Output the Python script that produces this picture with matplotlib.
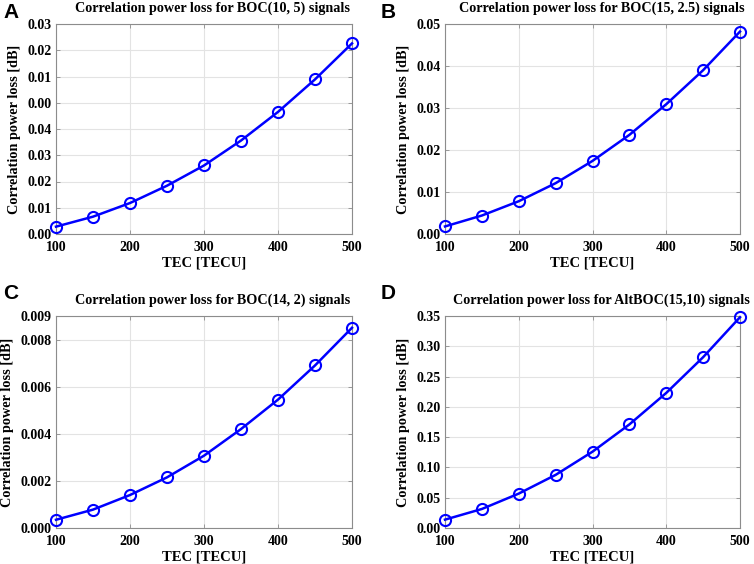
import matplotlib
matplotlib.use("Agg")
import matplotlib.pyplot as plt

# TEC values on the x axis
tec = [100, 150, 200, 250, 300, 350, 400, 450, 500]

# correlation power loss [dB]
loss_boc_10_5 = [0.0028, 0.0066, 0.0118, 0.0184, 0.0261, 0.0356, 0.0465, 0.0589, 0.0726]
loss_boc_15_25 = [0.0018, 0.0044, 0.0078, 0.0121, 0.0174, 0.0236, 0.0309, 0.0390, 0.0482]
loss_boc_14_2 = [0.00035, 0.00078, 0.0014, 0.00215, 0.00307, 0.0042, 0.00545, 0.0069, 0.0085]
loss_altboc = [0.0138, 0.0314, 0.0568, 0.0877, 0.126, 0.171, 0.223, 0.282, 0.348]

titles = [
    "Correlation power loss for BOC(10, 5) signals",
    "Correlation power loss for BOC(15, 2.5) signals",
    "Correlation power loss for BOC(14, 2) signals",
    "Correlation power loss for AltBOC(15,10) signals",
]
letters = ["A", "B", "C", "D"]

# y ticks per panel (panel A has the odd repeated labels of the original)
yticks_a = [0.0, 0.01, 0.02, 0.03, 0.04, 0.05, 0.06, 0.07, 0.08]
ylabels_a = ["0.00", "0.01", "0.02", "0.03", "0.04", "0.00", "0.01", "0.02", "0.03"]
yticks_b = [0.0, 0.01, 0.02, 0.03, 0.04, 0.05]
ylabels_b = ["0.00", "0.01", "0.02", "0.03", "0.04", "0.05"]
yticks_c = [0.0, 0.002, 0.004, 0.006, 0.008, 0.009]
ylabels_c = ["0.000", "0.002", "0.004", "0.006", "0.008", "0.009"]
yticks_d = [0.0, 0.05, 0.10, 0.15, 0.20, 0.25, 0.30, 0.35]
ylabels_d = ["0.00", "0.05", "0.10", "0.15", "0.20", "0.25", "0.30", "0.35"]

xticks = [100, 200, 300, 400, 500]

plt.rcParams["font.family"] = ["Liberation Serif", "DejaVu Serif"]
plt.rcParams["font.weight"] = "bold"

W, H = 754, 564
fig = plt.figure(figsize=(W / 100, H / 100), dpi=100)

# axes boxes in pixels: left, top, right, bottom
boxes = [(56, 24, 352, 234), (445, 24, 740, 234),
         (56, 316, 352, 528), (445, 316, 740, 528)]
series = [loss_boc_10_5, loss_boc_15_25, loss_boc_14_2, loss_altboc]
yticks = [yticks_a, yticks_b, yticks_c, yticks_d]
ylabels = [ylabels_a, ylabels_b, ylabels_c, ylabels_d]
ylims = [(0, 0.08), (0, 0.05), (0, 0.009), (0, 0.35)]
letter_pos = [(3, 3), (381, 3), (3, 284), (381, 284)]

for i in range(4):
    l, t, r, b = boxes[i]
    ax = fig.add_axes([l / W, 1 - b / H, (r - l) / W, (b - t) / H])
    ax.plot(tec, series[i], color="#0000ff", lw=1.8, marker="o", ms=8,
            mfc="none", mec="#0000ff", mew=1.5, clip_on=False, zorder=3)
    ax.set_xlim(100, 500)
    ax.set_ylim(*ylims[i])
    ax.set_xticks(xticks)
    ax.set_yticks(yticks[i])
    ax.set_yticklabels(ylabels[i])
    ax.grid(True, color="#e3e3e3", lw=0.8)
    ax.set_axisbelow(True)
    for s in ax.spines.values():
        s.set_color("#8c8c8c")
        s.set_linewidth(0.8)
    ax.tick_params(direction="in", length=3, width=0.6, color="#8c8c8c",
                   labelsize=10, labelcolor="black", right=True, top=True)
    ax.tick_params(axis="x", pad=5)
    ax.tick_params(axis="y", pad=3)
    ax.set_xlabel("TEC [TECU]", fontsize=10.5, fontweight="bold", labelpad=2)
    ax.set_ylabel("Correlation power loss [dB]", fontsize=10.3, fontweight="bold", labelpad=5)
    ax.set_title(titles[i], fontsize=10.2, fontweight="bold", pad=9, x=0.53)
    fig.text(letter_pos[i][0] / W, 1 - letter_pos[i][1] / H, letters[i],
             fontsize=15, fontweight="bold", family="Liberation Sans", va="top", ha="left")

fig.savefig("out.png", dpi=100)
